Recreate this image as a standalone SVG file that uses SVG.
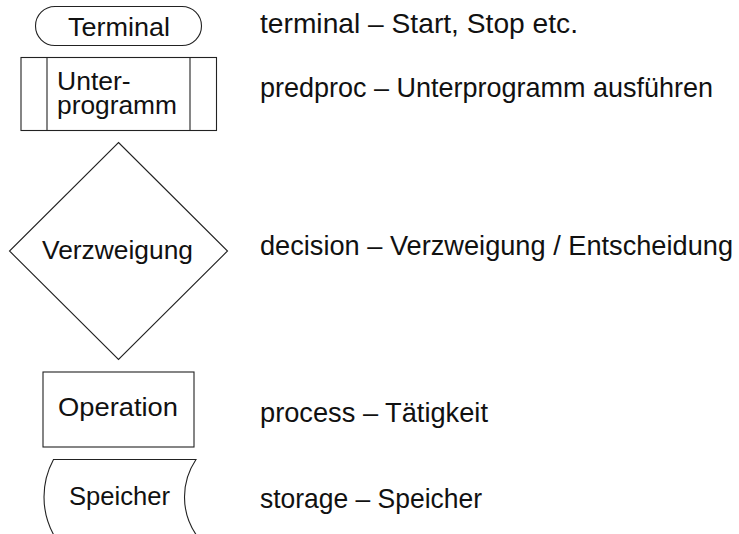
<svg xmlns="http://www.w3.org/2000/svg" width="739" height="534" viewBox="0 0 739 534">
<style>
.shape{fill:none;stroke:#222;stroke-width:1.1}
text{font-family:"Liberation Sans",Arial,sans-serif;font-size:27.5px;fill:#111}
.n{font-size:26.5px}
.c{text-anchor:middle}
</style>
<rect width="739" height="534" fill="#fff"/>
<g id="terminal">
<rect class="shape" x="35.5" y="6.5" width="166" height="39" rx="19.5" ry="19.5"/>
<text class="n" x="68" y="36" textLength="102" lengthAdjust="spacingAndGlyphs">Terminal</text>
</g>
<g id="predproc">
<rect class="shape" x="21" y="57.5" width="195.5" height="73"/>
<line class="shape" x1="47" y1="57.5" x2="47" y2="130.5"/>
<line class="shape" x1="190" y1="57.5" x2="190" y2="130.5"/>
<text class="n" x="57" y="90">Unter-</text>
<text class="n" x="57" y="114" textLength="120" lengthAdjust="spacingAndGlyphs">programm</text>
</g>
<g id="decision">
<polygon class="shape" points="118.5,142.5 227.5,251 118.5,359.5 9.5,251"/>
<text class="n" x="42" y="259" textLength="151" lengthAdjust="spacingAndGlyphs">Verzweigung</text>
</g>
<g id="process">
<rect class="shape" x="43" y="372" width="151" height="75"/>
<text class="n" x="58" y="416" textLength="120" lengthAdjust="spacingAndGlyphs">Operation</text>
</g>
<g id="storage">
<path class="shape" d="M53.5 459.5 L196 459.5 A66.9 66.9 0 0 0 196 534.5 L53.5 534.5 A78.8 78.8 0 0 1 53.5 459.5 Z"/>
<text class="n" x="69" y="505" textLength="101" lengthAdjust="spacingAndGlyphs">Speicher</text>
</g>
<g id="connectors"></g>
<g id="legend">
<text x="260" y="33" textLength="318" lengthAdjust="spacingAndGlyphs">terminal – Start, Stop etc.</text>
<text x="260" y="97" textLength="453" lengthAdjust="spacingAndGlyphs">predproc – Unterprogramm ausführen</text>
<text x="260" y="255" textLength="473" lengthAdjust="spacingAndGlyphs">decision – Verzweigung / Entscheidung</text>
<text x="260" y="422" textLength="228" lengthAdjust="spacingAndGlyphs">process – Tätigkeit</text>
<text x="260" y="508" textLength="222" lengthAdjust="spacingAndGlyphs">storage – Speicher</text>
</g>
</svg>
